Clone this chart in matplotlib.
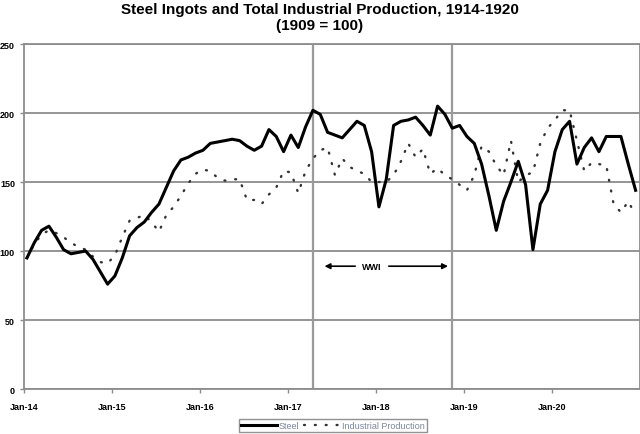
import matplotlib
matplotlib.use('Agg')
import numpy as np
import matplotlib.pyplot as plt

plt.rcParams['font.family'] = ['Liberation Sans', 'DejaVu Sans']

# monthly index values, Jan 1914 - Dec 1920 (1909 = 100)
steel = [95, 106, 115, 118, 110, 101, 98, 99, 100, 94, 85, 76,
         82, 95, 111, 117, 121, 128, 134, 146, 158, 166, 168, 171,
         173, 178, 179, 180, 181, 180, 176, 173, 176, 188, 183, 172,
         184, 175, 190, 202, 199, 186, 184, 182, 188, 194, 191, 172,
         132, 152, 191, 194, 195, 197, 191, 184, 205, 199, 189, 191,
         183, 178, 163, 140, 115, 136, 150, 165, 148, 101, 134, 144,
         172, 188, 194, 163, 175, 182, 172, 183, 183, 183, 163, 144]
industrial = [95, 105, 112, 115, 113, 110, 106, 103, 101, 96, 92, 91,
              97, 110, 122, 124, 126, 121, 114, 126, 132, 140, 149, 156,
              159, 158, 153, 151, 152, 152, 137, 137, 134, 141, 146, 158,
              157, 142, 158, 167, 173, 175, 155, 167, 161, 158, 156, 150,
              150, 150, 155, 165, 178, 168, 174, 156, 160, 155, 152, 148,
              144, 155, 176, 172, 162, 155, 180, 150, 155, 157, 178, 189,
              195, 202, 202, 180, 158, 164, 163, 162, 134, 128, 136, 126]
year_labels = ['Jan-14', 'Jan-15', 'Jan-16', 'Jan-17', 'Jan-18', 'Jan-19', 'Jan-20']
war_start = 39   # Apr 1917
war_end = 58     # Nov 1918

months = np.arange(len(steel))

fig = plt.figure(figsize=(6.4, 4.35), dpi=100)
ax = fig.add_axes([0.0375, 0.1034, 0.9625, 0.7931])

ax.set_ylim(0, 250)
ax.set_xlim(-0.4, 83.6)
ax.set_yticks(np.arange(0, 251, 50))
ax.yaxis.grid(True, color='#8c8c8c', lw=1.3)
ax.set_axisbelow(True)

ax.axvline(war_start, color='#9a9a9a', lw=1.6, zorder=1)
ax.axvline(war_end, color='#9a9a9a', lw=1.6, zorder=1)

ax.plot(months, steel, color='black', lw=2.2, label='Steel', zorder=3)
ax.plot(months, industrial, color='#333333', lw=1.7,
        linestyle=(0, (0.4, 4.2)), dash_capstyle='round',
        label='Industrial Production', zorder=2)

# WWI arrow
ax.annotate('', xy=(40.2, 89), xytext=(47.0, 89),
            arrowprops=dict(arrowstyle='-|>', color='black', lw=1.2, mutation_scale=8))
ax.annotate('', xy=(57.8, 89), xytext=(47.0, 89),
            arrowprops=dict(arrowstyle='-|>', color='black', lw=1.2, mutation_scale=8))
ax.text(47.0, 89, 'WWI', ha='center', va='center', fontsize=6.5,
        fontweight='bold', backgroundcolor='white', zorder=5)

ax.set_xticks(np.arange(len(year_labels)) * 12 - 0.35)
ax.set_xticklabels(year_labels)
ax.tick_params(axis='both', labelsize=6.5, length=3, color='#8c8c8c', width=1)
for lab in ax.get_xticklabels() + ax.get_yticklabels():
    lab.set_fontweight('bold')
ax.tick_params(axis='x', pad=6)

for side in ['left', 'bottom', 'right', 'top']:
    ax.spines[side].set_color('#8c8c8c')
    ax.spines[side].set_linewidth(1.3)

fig.text(0.5, 0.978, 'Steel Ingots and Total Industrial Production, 1914-1920',
         ha='center', va='center', fontsize=11, fontweight='bold')
fig.text(0.5, 0.94, '(1909 = 100)', ha='center', va='center',
         fontsize=11, fontweight='bold')

leg = fig.legend(loc='center', bbox_to_anchor=(0.52, 0.0195), ncol=2,
                 fontsize=6.5, frameon=True, fancybox=False, edgecolor='#777777',
                 handlelength=4, columnspacing=0.5, borderpad=0.25,
                 handletextpad=0.2)
for t in leg.get_texts():
    t.set_color('#7a8699')

fig.savefig('out.png', dpi=100)
